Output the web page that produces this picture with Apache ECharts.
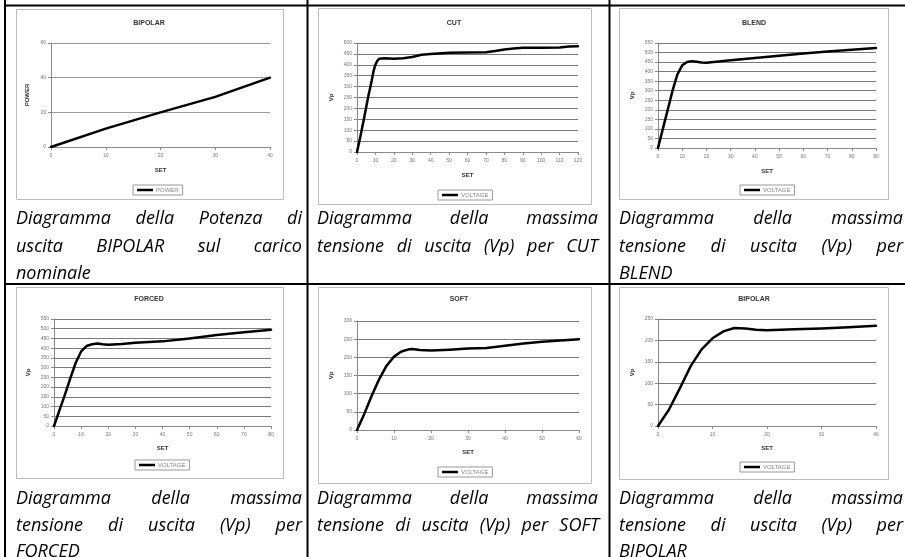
<!DOCTYPE html>
<html>
<head>
<meta charset="utf-8">
<script src="https://cdn.jsdelivr.net/npm/echarts@6/dist/echarts.min.js"></script>
<style>
html,body{margin:0;padding:0;background:#fff;}
#c{width:905px;height:557px;}
</style>
</head>
<body>
<div id="c"></div>
<script>
// ---------- data ----------
const bipolarPowerSet = [0, 10, 20, 30, 40];
const bipolarPower    = [0, 10.6, 20, 28.9, 40];

const cutSet = [0, 2, 4, 6, 8, 9, 10, 11, 12, 13, 15, 20, 25, 30, 35, 40, 50, 60, 70, 75, 80, 85, 90, 100, 110, 115, 120];
const cutVp  = [0, 78, 162, 250, 328, 372, 400, 418, 428, 432, 430, 428, 430, 436, 446, 450, 455, 456, 458, 463, 470, 475, 478, 478, 479, 484, 485];

const blendSet = [0, 2, 4, 6, 8, 10, 12, 14, 16, 18, 20, 25, 30, 40, 50, 60, 70, 80, 90];
const blendVp  = [0, 100, 200, 300, 385, 433, 451, 455, 452, 448, 447, 453, 460, 472, 483, 495, 505, 515, 524];

const forcedSet = [0, 2, 4, 6, 8, 10, 12, 14, 16, 18, 20, 25, 30, 40, 50, 60, 70, 80];
const forcedVp  = [0, 80, 160, 245, 325, 383, 411, 420, 424, 420, 418, 422, 428, 435, 450, 468, 482, 495];

const softSet = [0, 2, 4, 6, 8, 10, 12, 14, 15, 17, 20, 25, 30, 35, 40, 45, 50, 55, 60];
const softVp  = [0, 45, 95, 140, 177, 202, 216, 222, 223, 220, 219, 221, 224, 226, 232, 238, 243, 246, 250];

const bipolarVSet = [0, 2, 4, 5, 6, 8, 10, 12, 14, 16, 18, 20, 25, 30, 35, 40];
const bipolarVp   = [0, 38, 88, 114, 140, 179, 205, 221, 229, 228, 225, 224, 226, 228, 231, 234];

const chartTitles = ['BIPOLAR', 'CUT', 'BLEND', 'FORCED', 'SOFT', 'BIPOLAR'];
const seriesNames = ['POWER', 'VOLTAGE', 'VOLTAGE', 'VOLTAGE', 'VOLTAGE', 'VOLTAGE'];
const yNames      = ['POWER', 'Vp', 'Vp', 'Vp', 'Vp', 'Vp'];
const xName       = 'SET';
const xMaxes      = [40, 120, 90, 80, 60, 40];
const xIntervals  = [10, 10, 10, 10, 10, 10];
const yMaxes      = [60, 500, 550, 550, 300, 250];
const yIntervals  = [20, 50, 50, 50, 50, 50];

const captionTexts = [
  ['Diagramma della Potenza di', 'uscita BIPOLAR sul carico', 'nominale'],
  ['Diagramma della massima', 'tensione di uscita (Vp) per CUT'],
  ['Diagramma della massima', 'tensione di uscita (Vp) per', 'BLEND'],
  ['Diagramma della massima', 'tensione di uscita (Vp) per', 'FORCED'],
  ['Diagramma della massima', 'tensione di uscita (Vp) per SOFT'],
  ['Diagramma della massima', 'tensione di uscita (Vp) per', 'BIPOLAR']
];

const sets = [bipolarPowerSet, cutSet, blendSet, forcedSet, softSet, bipolarVSet];
const vals = [bipolarPower, cutVp, blendVp, forcedVp, softVp, bipolarVp];

// ---------- layout ----------
const layout = [
  {plot:[51,43,270,147],  box:[16,9,283,199],   title:[149,23],  legend:[133,185], xGap:20, yGap:21},
  {plot:[357,43,578,152], box:[318,8,591,204],  title:[454,23],  legend:[438,190], xGap:20, yGap:23},
  {plot:[658,43,876,148], box:[619,8,888,199],  title:[754,23],  legend:[740,185], xGap:20, yGap:23},
  {plot:[54,319,271,426], box:[16,287,283,478], title:[149,299], legend:[135,460], xGap:19, yGap:23},
  {plot:[357,321,579,430],box:[318,287,591,483],title:[459,299], legend:[438,467], xGap:19, yGap:23},
  {plot:[658,319,876,426],box:[619,287,888,479],title:[754,299], legend:[740,462], xGap:19, yGap:23}
];
// per caption line: [x0, x1 (null = natural width), y]
const capLayout = [
  [[16,302,219],[16,302,247],[16,null,274]],
  [[317,598,219],[317,598,247]],
  [[619,903,219],[619,903,247],[619,null,274]],
  [[16,302,499],[16,302,526],[16,null,552]],
  [[317,598,499],[317,599,526]],
  [[619,903,499],[619,903,526],[619,null,552]]
];

const AX_FONT = '"Liberation Sans", Arial, sans-serif';
const CAP_SIZE = 18;
const capFontCss = 'italic ' + CAP_SIZE + 'px "Open Sans"';

const measureCtx = document.createElement('canvas').getContext('2d');
measureCtx.font = capFontCss;

const graphics = [];
layout.forEach(l => {
  graphics.push({type:'rect', z:0, silent:true,
    shape:{x:l.box[0]+0.5, y:l.box[1]+0.5, width:l.box[2]-l.box[0], height:l.box[3]-l.box[1]},
    style:{fill:'#fff', stroke:'#bdbdbd', lineWidth:1}});
});
layout.forEach((l,i) => {
  graphics.push({type:'text', z:5, silent:true, x:l.title[0], y:l.title[1],
    style:{text:chartTitles[i], fontSize:7, fontWeight:'bold', fontFamily:AX_FONT, fill:'#333',
      align:'center', verticalAlign:'middle'}});
});
captionTexts.forEach((lines, ci) => {
  lines.forEach((line, li) => {
    const [x0, x1, y] = capLayout[ci][li];
    if (x1 !== null) {
      const words = line.split(' ');
      const widths = words.map(w => measureCtx.measureText(w).width);
      const total = widths.reduce((a,b)=>a+b,0);
      const gap = (x1 - x0 - total) / (words.length - 1);
      let x = x0;
      words.forEach((w, wi) => {
        graphics.push({type:'text', z:5, silent:true, x:x, y:y,
          style:{text:w, font:capFontCss, fill:'#000', align:'left', verticalAlign:'middle'}});
        x += widths[wi] + gap;
      });
    } else {
      graphics.push({type:'text', z:5, silent:true, x:x0, y:y,
        style:{text:line, font:capFontCss, fill:'#000', align:'left', verticalAlign:'middle'}});
    }
  });
});
const rules = [
  [4, 5.5, 905, 5.5], [4, 284, 905, 284],
  [5, 0, 5, 557], [307.5, 0, 307.5, 557], [609.5, 0, 609.5, 557]
];
rules.forEach(r => {
  graphics.push({type:'line', z:100, silent:true,
    shape:{x1:r[0], y1:r[1], x2:r[2], y2:r[3]}, style:{stroke:'#000', lineWidth:2}});
});

const option = {
  animation:false,
  backgroundColor:'#fff',
  grid: layout.map(l => ({
    left:l.plot[0], top:l.plot[1], width:l.plot[2]-l.plot[0], height:l.plot[3]-l.plot[1],
    show:true, backgroundColor:'#fff', borderColor:'#c4c4c4', borderWidth:1, containLabel:false
  })),
  xAxis: layout.map((l,i) => ({
    type:'value', gridIndex:i, min:0, max:xMaxes[i], interval:xIntervals[i],
    name:xName, nameLocation:'middle', nameGap:l.xGap,
    nameTextStyle:{fontSize:6, fontWeight:'bold', color:'#333', fontFamily:AX_FONT},
    axisLine:{show:true, onZero:false, lineStyle:{color:'#8a8a8a', width:1}},
    axisTick:{show:true, length:3, lineStyle:{color:'#8a8a8a'}},
    axisLabel:{fontSize:5, color:'#777', margin:6, fontFamily:AX_FONT},
    splitLine:{show:false}
  })),
  yAxis: layout.map((l,i) => ({
    type:'value', gridIndex:i, min:0, max:yMaxes[i], interval:yIntervals[i],
    name:yNames[i], nameLocation:'middle', nameGap:l.yGap, nameRotate:90,
    nameTextStyle:{fontSize:6, fontWeight:'bold', color:'#333', fontFamily:AX_FONT},
    axisLine:{show:true, onZero:false, lineStyle:{color:'#8a8a8a', width:1}},
    axisTick:{show:true, length:3, lineStyle:{color:'#8a8a8a'}},
    axisLabel:{fontSize:5, color:'#777', margin:5, fontFamily:AX_FONT},
    splitLine:{show:true, lineStyle:{color: i===0 ? '#9a9a9a' : '#7a7a7a', width:1}}
  })),
  legend: layout.map((l,i) => ({
    data:[seriesNames[i]], left:l.legend[0], top:l.legend[1],
    orient:'horizontal', padding:[2,4], itemGap:4,
    icon:'rect', itemWidth:16, itemHeight:2.5,
    borderColor:'#999', borderWidth:1, backgroundColor:'#fff',
    textStyle:{fontSize:6, color:'#888', fontFamily:AX_FONT, padding:[0,0,0,-2]},
    selectedMode:false
  })),
  series: layout.map((l,i) => ({
    type:'line', name:seriesNames[i], xAxisIndex:i, yAxisIndex:i,
    data: sets[i].map((x,j) => [x, vals[i][j]]),
    showSymbol:false, smooth:false,
    lineStyle:{color:'#000', width:2.5, join:'round', cap:'round'}, itemStyle:{color:'#000'}
  })),
  graphic: graphics
};

const chart = echarts.init(document.getElementById('c'), null, {renderer:'canvas'});
chart.setOption(option);
</script>
</body>
</html>
